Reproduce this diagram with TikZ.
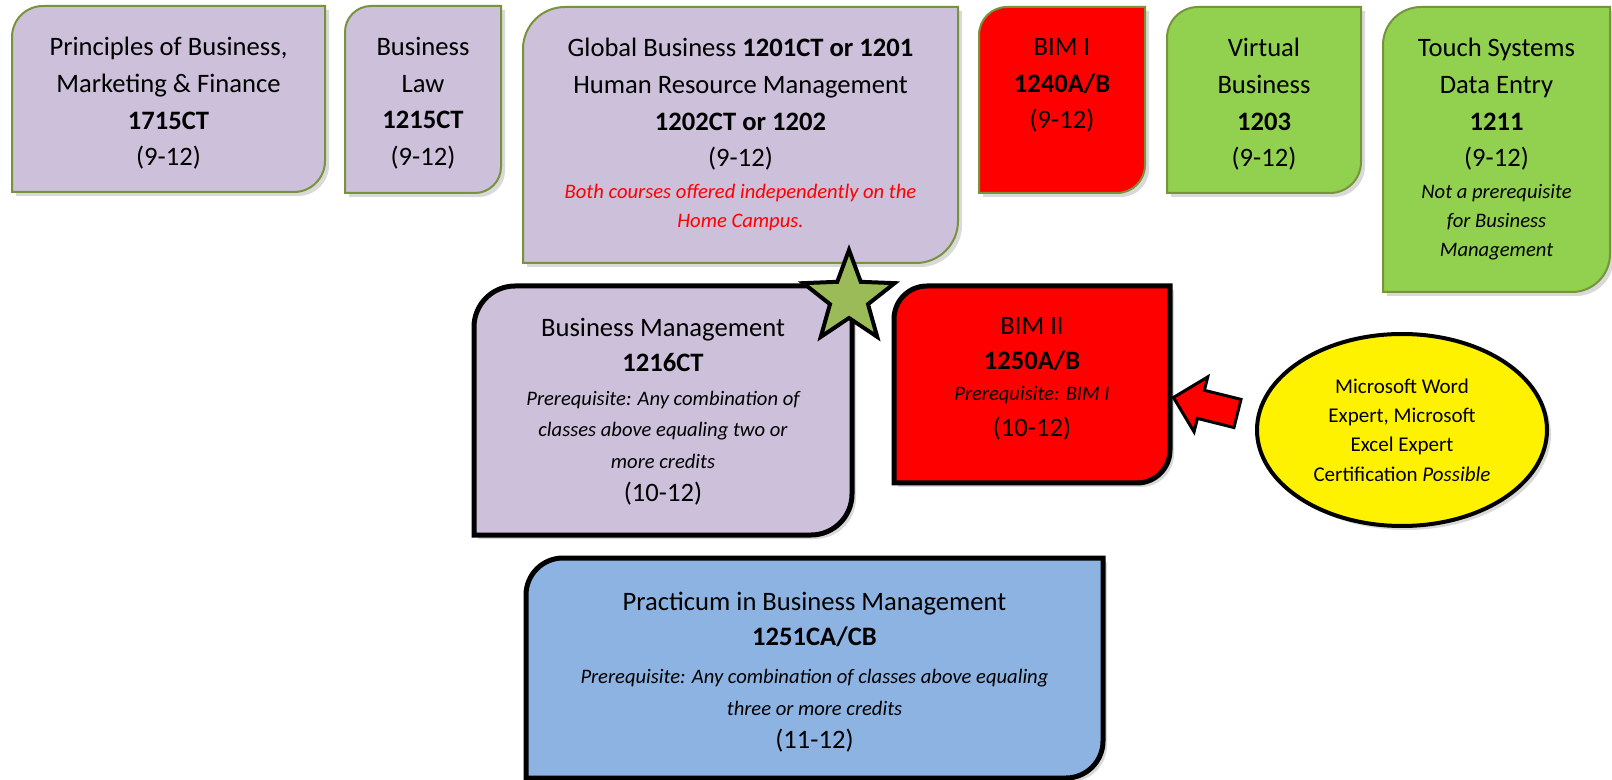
\documentclass[tikz,border=0pt]{standalone}
\usepackage{fontspec}
\setmainfont{Carlito}
\usetikzlibrary{positioning,calc,shapes.geometric,shapes.arrows,shadows}

\definecolor{lilac}{HTML}{CCC0DA}
\definecolor{olive}{HTML}{77933C}
\definecolor{leaf}{HTML}{92D050}
\definecolor{sky}{HTML}{8DB3E2}
\definecolor{starfill}{HTML}{9BBB59}

% box with two round corners (top left, bottom right)
\newcommand\roundframe[3]{%
  \path[#3] (#1.south west) -- ([yshift=-#2]#1.north west)
    arc[start angle=180,end angle=90,radius=#2] -- (#1.north east)
    -- ([yshift=#2]#1.south east) arc[start angle=0,end angle=-90,radius=#2] -- cycle;}
\newcommand\note[1]{{\fontsize{10.3}{15}\selectfont\itshape #1}}

\begin{document}
\begin{tikzpicture}[x=0.5pt,y=-0.5pt,
    slot/.style={inner sep=0pt,outer sep=0pt},
    lbl/.style={inner sep=0pt,align=center,font=\fontsize{13.3}{18.3}\selectfont},
    topframe/.style={draw=olive,line width=1pt,drop shadow={opacity=0.3,shadow xshift=2pt,shadow yshift=-2pt}},
    midframe/.style={draw=black,line width=2.5pt,drop shadow={opacity=0.3,shadow xshift=2pt,shadow yshift=-2pt}}]
  \useasboundingbox (0,0) rectangle (1612,780);

  % Top row
  \node[slot,minimum width=156.5pt,minimum height=93pt] (prin) at (168.5,99) {};
  \node[slot,minimum width=78pt,minimum height=93.5pt] (law) at (423,99.5) {};
  \node[slot,minimum width=217.5pt,minimum height=128pt] (glob) at (740.5,135) {};
  \node[slot,minimum width=83pt,minimum height=93pt] (bimone) at (1062,100) {};
  \node[slot,minimum width=97pt,minimum height=93pt] (virt) at (1264,100) {};
  \node[slot,minimum width=113.5pt,minimum height=142.5pt] (touch) at (1496.5,149.5) {};

  \roundframe{prin}{15.5pt}{topframe,fill=lilac}
  \roundframe{law}{13pt}{topframe,fill=lilac}
  \roundframe{glob}{21pt}{topframe,fill=lilac}
  \roundframe{bimone}{14pt}{topframe,fill=red}
  \roundframe{virt}{15.5pt}{topframe,fill=leaf}
  \roundframe{touch}{19pt}{topframe,fill=leaf}

  \node[lbl,below=15.5pt of prin.north] (prinlbl) {Principles of Business,\\Marketing \& Finance\\\textbf{1715CT}\\(9-12)};
  \node[lbl,below=15.5pt of law.north] (lawlbl) {Business\\Law\\\textbf{1215CT}\\(9-12)};
  \node[lbl,below=15.5pt of glob.north] (globlbl) {Global Business \textbf{1201CT or 1201}\\Human Resource Management\\\textbf{1202CT or 1202}\\(9-12)\\[-2.3pt]
    \note{\color{red}Both courses offered independently on the}\\[-3.8pt]\note{\color{red}Home Campus.}};
  \node[lbl,below=15.5pt of bimone.north] (bimonelbl) {BIM I\\\textbf{1240A/B}\\(9-12)};
  \node[lbl,below=15.5pt of virt.north] (virtlbl) {Virtual\\Business\\\textbf{1203}\\(9-12)};
  \node[lbl,below=15.5pt of touch.north] (touchlbl) {Touch Systems\\Data Entry\\\textbf{1211}\\(9-12)\\[-2.3pt]
    \note{Not a prerequisite}\\[-3.8pt]\note{for Business}\\[-3.8pt]\note{Management}};

  % Second row
  \node[slot,minimum width=189pt,minimum height=124.5pt] (bm) at (663,410.5) {};
  \node[slot,minimum width=138pt,minimum height=98.5pt] (bimtwo) at (1032,384.5) {};
  \roundframe{bm}{20.5pt}{midframe,fill=lilac}
  \roundframe{bimtwo}{16.5pt}{midframe,fill=red}

  \node[lbl,below=16pt of bm.north] (bmlbl) {Business Management\\[-0.8pt]\textbf{1216CT}\\[-1.3pt]
    \note{Prerequisite: Any combination of}\\[-2.8pt]\note{classes above equaling two or}\\[-2.3pt]\note{more credits}\\[-1.8pt](10-12)};
  \node[lbl,below=15.5pt of bimtwo.north] (bimtwolbl) {BIM II\\[-0.8pt]\textbf{1250A/B}\\[-2.8pt]\note{Prerequisite: BIM I}\\[-0.3pt](10-12)};

  % Certification bubble and arrow
  \node[ellipse,draw=black,line width=2pt,fill=yellow,minimum width=145pt,minimum height=96pt,inner sep=0pt,
    align=center,font=\fontsize{10.5}{14.6}\selectfont,
    drop shadow={opacity=0.3,shadow xshift=2pt,shadow yshift=-2pt}] (cert) at (1402,430)
    {Microsoft Word\\Expert, Microsoft\\Excel Expert\\Certification \textit{Possible}};
  \node[single arrow,draw=black,fill=red,line width=1.5pt,minimum height=33pt,inner sep=6.5pt,
    single arrow head extend=6.9pt,rotate=166] (certarrow) at ($(cert.west)!0.5!(bimtwo.east)$) {};

  % Practicum
  \node[slot,minimum width=288.5pt,minimum height=110pt] (prac) at (814.5,668) {};
  \roundframe{prac}{18.5pt}{midframe,fill=sky}
  \node[lbl,below=17pt of prac.north] (praclbl) {Practicum in Business Management\\[-0.8pt]\textbf{1251CA/CB}\\[0.7pt]
    \note{Prerequisite: Any combination of classes above equaling}\\[-2.3pt]\note{three or more credits}\\[-1.8pt](11-12)};

  % Star on the corner
  \node[star,star points=5,star point ratio=2.4,draw=black,line width=2pt,fill=starfill,
    minimum size=48pt,inner sep=0pt] (badge) at (849,298) {};
\end{tikzpicture}
\end{document}
